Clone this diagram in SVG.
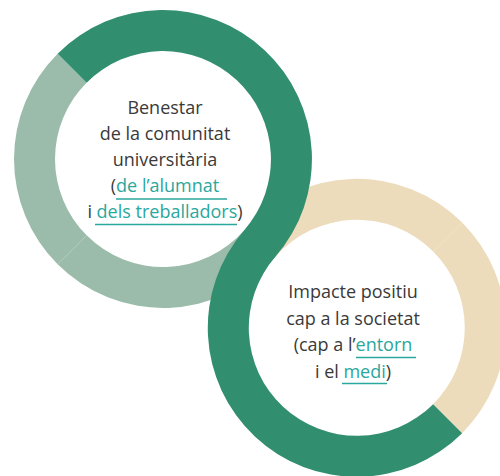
<svg xmlns="http://www.w3.org/2000/svg" width="500" height="476" viewBox="0 0 500 476">
<style>
.t{font-family:"Open Sans","Liberation Sans",sans-serif;font-size:18px;fill:#3a3a3a;text-anchor:middle}
.l{fill:#2aa79e}
.u{stroke:#2aa79e;stroke-width:1.5;fill:none}
.dark{fill:#318f6f}
.light{fill:#9bbcaa}
.beige{fill:#ecdcbb}
</style>
<rect width="500" height="476" fill="#ffffff"/>
<g id="ring-benestar-base">
<path class="light" d="M275.35 256.86 A149 149 0 0 1 57.64 264.36 L86.63 235.37 A108 108 0 0 0 244.43 229.93 Z"/>
<path class="light" d="M57.64 264.36 A149 149 0 0 1 57.64 53.64 L86.63 82.63 A108 108 0 0 0 86.63 235.37 Z"/>
</g>
<g id="ring-impacte-base">
<path class="beige" d="M244.43 229.93 A149 149 0 0 1 462.14 222.44 L433.15 251.43 A108 108 0 0 0 275.35 256.87 Z"/>
<path class="beige" d="M462.14 222.44 A149 149 0 0 1 462.14 433.16 L433.15 404.17 A108 108 0 0 0 433.15 251.43 Z"/>
</g>
<g id="connectors">
<path class="dark" d="M57.64 53.64 A149 149 0 0 1 275.35 256.86 A108 108 0 0 0 433.15 404.17 L462.14 433.16 A149 149 0 0 1 244.43 229.93 A108 108 0 0 0 86.63 82.63 Z"/>
</g>
<g id="node-benestar">
<text class="t" x="165" y="114">Benestar</text>
<text class="t" x="165" y="140">de la comunitat</text>
<text class="t" x="165" y="166">universitària</text>
<text class="t" x="165" y="192">(<tspan class="l">de l’alumnat</tspan></text>
<text class="t" x="165" y="218">i <tspan class="l">dels treballadors</tspan>)</text>
<line class="u" x1="116" y1="199" x2="227" y2="199"/>
<line class="u" x1="95" y1="224.5" x2="237" y2="224.5"/>
</g>
<g id="node-impacte">
<text class="t" x="353" y="298">Impacte positiu</text>
<text class="t" x="353" y="324.5">cap a la societat</text>
<text class="t" x="353" y="351">(cap a l’<tspan class="l">entorn</tspan></text>
<text class="t" x="353" y="377.5">i el <tspan class="l">medi</tspan>)</text>
<line class="u" x1="356" y1="357.5" x2="416" y2="357.5"/>
<line class="u" x1="342" y1="383.5" x2="387" y2="383.5"/>
</g>
</svg>
